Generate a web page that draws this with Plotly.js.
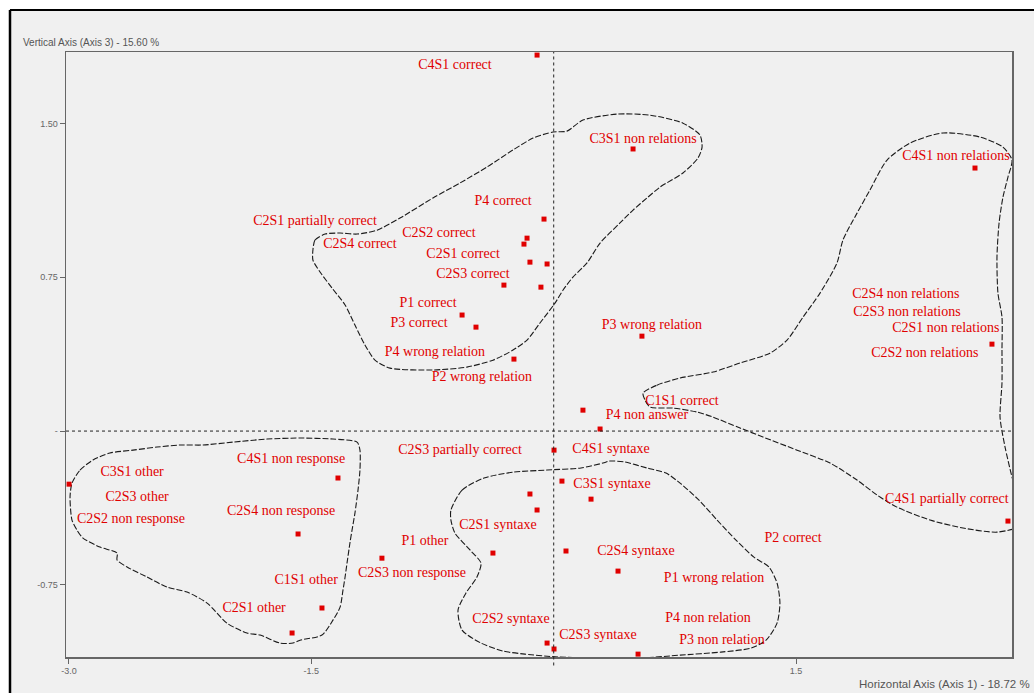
<!DOCTYPE html>
<html>
<head>
<meta charset="utf-8">
<script src="https://cdn.plot.ly/plotly-3.0.1.min.js"></script>
<style>html,body{margin:0;padding:0;background:#f0f0f0;}#chart{width:1034px;height:693px;}</style>
</head>
<body>
<div id="chart"></div>
<script>
// ---- Points (factor coordinates: Axis 1, Axis 3) ----
const pointNames = ["C4S1 correct","C3S1 non relations","C4S1 non relations","P4 correct","C2S2 correct","C2S4 correct","C2S1 correct","C2S1 partially correct","C2S3 correct","P4 wrong relation","P1 correct","P3 correct","P2 wrong relation","P3 wrong relation","C2S1 non relations","C1S1 correct","P4 non answer","C2S3 partially correct","C4S1 syntaxe","C3S1 syntaxe","C2S1 syntaxe","P2 correct","C2S2 syntaxe","C2S4 syntaxe","P1 wrong relation","C2S3 syntaxe","P4 non relation","P3 non relation","C4S1 partially correct","C3S1 other","C4S1 non response","C2S4 non response","C2S3 non response","C1S1 other","C2S1 other"];
const pointX = [-0.103,0.491,2.607,-0.060,-0.165,-0.184,-0.147,-0.041,-0.308,-0.079,-0.567,-0.481,-0.246,0.546,2.712,0.181,0.287,0.002,0.051,0.231,-0.147,-0.103,-0.376,0.076,0.398,-0.041,0.002,0.522,2.811,-2.999,-1.335,-1.582,-1.063,-1.434,-1.619];
const pointY = [1.834,1.376,1.283,1.034,0.941,0.912,0.824,0.815,0.712,0.702,0.566,0.507,0.351,0.463,0.424,0.102,0.010,-0.093,-0.244,-0.332,-0.307,-0.385,-0.595,-0.585,-0.683,-1.034,-1.063,-1.088,-0.439,-0.259,-0.229,-0.502,-0.620,-0.863,-0.985];

// ---- Label anchors ----
const labelText = ["C4S1 correct","C3S1 non relations","C4S1 non relations","P4 correct","C2S1 partially correct","C2S4 correct","C2S2 correct","C2S1 correct","C2S3 correct","P1 correct","P3 correct","P4 wrong relation","P2 wrong relation","P3 wrong relation","C2S4 non relations","C2S3 non relations","C2S1 non relations","C2S2 non relations","C1S1 correct","P4 non answer","C2S3 partially correct","C4S1 syntaxe","C3S1 syntaxe","C2S1 syntaxe","C2S4 syntaxe","P1 wrong relation","P2 correct","C4S1 partially correct","C2S2 syntaxe","P4 non relation","C2S3 syntaxe","P3 non relation","C4S1 non response","C3S1 other","C2S3 other","C2S2 non response","C2S4 non response","P1 other","C2S3 non response","C1S1 other","C2S1 other"];
const labelX = [-0.611,0.553,2.489,-0.314,-1.477,-1.199,-0.710,-0.561,-0.500,-0.778,-0.833,-0.735,-0.444,0.608,2.179,2.186,2.427,2.297,0.794,0.577,-0.580,0.355,0.361,-0.345,0.509,0.992,1.481,2.433,-0.264,0.955,0.274,1.041,-1.625,-2.609,-2.578,-2.616,-1.687,-0.797,-0.877,-1.532,-1.854];
const labelY = [1.785,1.424,1.341,1.122,1.020,0.912,0.966,0.863,0.766,0.624,0.527,0.385,0.263,0.517,0.668,0.576,0.498,0.380,0.146,0.078,-0.093,-0.088,-0.259,-0.459,-0.585,-0.717,-0.522,-0.332,-0.917,-0.912,-0.995,-1.020,-0.141,-0.200,-0.322,-0.429,-0.390,-0.541,-0.693,-0.727,-0.863];

// ---- Hand-drawn cluster outlines ----
const groupA_x = [-1.490,-1.477,-1.415,-1.322,-1.217,-1.093,-0.951,-0.747,-0.580,-0.413,-0.252,-0.128,-0.004,0.082,0.181,0.392,0.596,0.800,0.905,0.918,0.893,0.800,0.658,0.577,0.491,0.410,0.287,0.206,0.119,0.058,0.008,-0.085,-0.165,-0.252,-0.376,-0.537,-0.747,-1.013,-1.106,-1.168,-1.230,-1.291,-1.372,-1.446,-1.490,-1.490];
const groupA_y = [0.883,0.932,0.961,0.966,0.961,0.980,1.039,1.137,1.210,1.288,1.371,1.429,1.459,1.463,1.517,1.546,1.541,1.502,1.444,1.385,1.332,1.259,1.190,1.137,1.078,1.015,0.917,0.820,0.751,0.688,0.624,0.527,0.444,0.395,0.346,0.312,0.298,0.307,0.346,0.420,0.517,0.615,0.698,0.776,0.834,0.883];
const groupB_x = [0.553,0.639,0.782,0.986,1.153,1.338,1.444,1.543,1.648,1.753,1.790,1.877,1.957,2.063,2.205,2.409,2.638,2.780,2.836,2.811,2.780,2.756,2.743,2.749,2.774,2.774,2.774,2.762,2.793,2.836,2.873,2.886,2.867,2.743,2.533,2.329,2.124,2.001,1.877,1.710,1.506,1.295,1.153,0.986,0.887,0.738,0.596,0.565,0.553];
const groupB_y = [0.185,0.224,0.259,0.288,0.332,0.380,0.444,0.556,0.673,0.820,0.932,1.063,1.176,1.322,1.405,1.454,1.434,1.385,1.322,1.239,1.141,1.015,0.849,0.673,0.556,0.395,0.234,0.068,-0.078,-0.224,-0.322,-0.420,-0.468,-0.493,-0.473,-0.434,-0.371,-0.312,-0.239,-0.156,-0.093,-0.029,0.015,0.068,0.093,0.112,0.117,0.151,0.185];
const groupC_x = [-0.636,-0.567,-0.431,-0.246,-0.041,0.169,0.305,0.348,0.441,0.577,0.695,0.782,0.899,1.011,1.128,1.239,1.332,1.382,1.400,1.382,1.314,1.221,1.035,0.782,0.553,0.348,0.212,0.027,-0.178,-0.314,-0.450,-0.567,-0.592,-0.543,-0.475,-0.450,-0.518,-0.611,-0.636,-0.636];
const groupC_y = [-0.385,-0.288,-0.229,-0.200,-0.190,-0.180,-0.156,-0.146,-0.151,-0.180,-0.205,-0.254,-0.337,-0.434,-0.532,-0.615,-0.663,-0.741,-0.839,-0.937,-1.020,-1.059,-1.078,-1.093,-1.107,-1.117,-1.107,-1.102,-1.088,-1.073,-1.034,-0.971,-0.873,-0.790,-0.712,-0.644,-0.580,-0.498,-0.434,-0.385];
const groupD_x = [-2.981,-2.931,-2.851,-2.746,-2.603,-2.455,-2.313,-2.170,-1.985,-1.774,-1.570,-1.366,-1.217,-1.199,-1.199,-1.211,-1.230,-1.248,-1.261,-1.279,-1.291,-1.304,-1.322,-1.366,-1.434,-1.570,-1.613,-1.694,-1.817,-1.898,-2.022,-2.145,-2.269,-2.393,-2.517,-2.640,-2.702,-2.702,-2.808,-2.913,-2.950,-2.981,-2.993,-2.981];
const groupD_y = [-0.254,-0.190,-0.141,-0.107,-0.093,-0.078,-0.068,-0.068,-0.054,-0.039,-0.034,-0.039,-0.054,-0.093,-0.190,-0.288,-0.400,-0.483,-0.546,-0.644,-0.712,-0.776,-0.859,-0.922,-0.995,-1.020,-1.034,-1.034,-0.995,-0.985,-0.937,-0.839,-0.785,-0.761,-0.712,-0.663,-0.629,-0.595,-0.566,-0.522,-0.483,-0.434,-0.322,-0.254];

// ---- Axis ticks ----
const xTickVals = [-3.0, -1.5, 1.5];
const xTickText = ["-3.0", "-1.5", "1.5"];
const yTickVals = [1.5, 0.75, 0, -0.75];
const yTickText = ["1.50", "0.75", "-", "-0.75"];

const outlineStyle = {color: '#1a1a1a', width: 1.1, dash: '6px,2px', shape: 'spline', smoothing: 0.7};
function outline(xs, ys) {
  return {x: xs, y: ys, type: 'scatter', mode: 'lines', line: outlineStyle, hoverinfo: 'skip', showlegend: false};
}

const traces = [
  outline(groupA_x, groupA_y),
  outline(groupB_x, groupB_y),
  outline(groupC_x, groupC_y),
  outline(groupD_x, groupD_y),
  {x: pointX, y: pointY, text: pointNames, type: 'scatter', mode: 'markers',
   marker: {symbol: 'square', size: 5, color: '#e00000', line: {width: 0}},
   cliponaxis: false, hoverinfo: 'text', showlegend: false},
  {x: labelX, y: labelY, text: labelText, type: 'scatter', mode: 'text',
   textposition: 'middle center',
   textfont: {family: 'Liberation Serif, Times New Roman, serif', size: 14, color: '#e00000'},
   cliponaxis: false, hoverinfo: 'skip', showlegend: false}
];

const axisFont = {family: 'Liberation Sans, Arial, sans-serif', size: 9, color: '#666'};
const layout = {
  width: 1034, height: 693,
  margin: {l: 66, r: 22, t: 52, b: 36},
  paper_bgcolor: '#f0f0f0', plot_bgcolor: '#f0f0f0',
  showlegend: false,
  xaxis: {range: [-3.018, 2.836], tickvals: xTickVals, ticktext: xTickText, tickfont: axisFont,
          ticks: 'outside', ticklen: 5, tickcolor: '#666', showgrid: false, zeroline: false,
          showline: true, linecolor: '#666', linewidth: 1.5, mirror: true, fixedrange: true},
  yaxis: {range: [-1.102, 1.849], tickvals: yTickVals, ticktext: yTickText, tickfont: axisFont,
          ticks: 'outside', ticklen: 5, tickcolor: '#666', showgrid: false, zeroline: false,
          showline: true, linecolor: '#666', linewidth: 1.5, mirror: true, fixedrange: true},
  shapes: [
    {type: 'line', xref: 'x', yref: 'paper', x0: 0, x1: 0, y0: -0.014, y1: 1, line: {color: '#222', width: 1, dash: 'dot'}},
    {type: 'line', xref: 'paper', yref: 'y', x0: 0, x1: 1, y0: 0, y1: 0, line: {color: '#222', width: 1, dash: 'dot'}},
    {type: 'rect', xref: 'paper', yref: 'paper', x0: -0.08, x1: -0.0603, y0: -0.1, y1: 1.1, fillcolor: '#ffffff', line: {width: 0}, layer: 'below'},
    {type: 'rect', xref: 'paper', yref: 'paper', x0: -0.08, x1: 1.1, y0: 1.0711, y1: 1.1, fillcolor: '#ffffff', line: {width: 0}, layer: 'below'},
    {type: 'line', xref: 'paper', yref: 'paper', x0: -0.0592, x1: -0.0592, y0: -0.1, y1: 1.0694, line: {color: '#000', width: 2.5}},
    {type: 'line', xref: 'paper', yref: 'paper', x0: -0.0592, x1: 1.1, y0: 1.0694, y1: 1.0694, line: {color: '#000', width: 2}}
  ],
  annotations: [
    {text: 'Vertical Axis (Axis 3) - 15.60 %', xref: 'paper', yref: 'paper', x: -0.048, y: 1.016,
     xanchor: 'left', yanchor: 'middle', showarrow: false,
     font: {family: 'Liberation Sans, Arial, sans-serif', size: 10, color: '#555'}},
    {text: 'Horizontal Axis (Axis 1) - 18.72 %', xref: 'paper', yref: 'paper', x: 1.021, y: -0.045,
     xanchor: 'right', yanchor: 'middle', showarrow: false,
     font: {family: 'Liberation Sans, Arial, sans-serif', size: 11.5, color: '#555'}}
  ]
};

Plotly.newPlot('chart', traces, layout, {displayModeBar: false, staticPlot: true});
</script>
</body>
</html>
